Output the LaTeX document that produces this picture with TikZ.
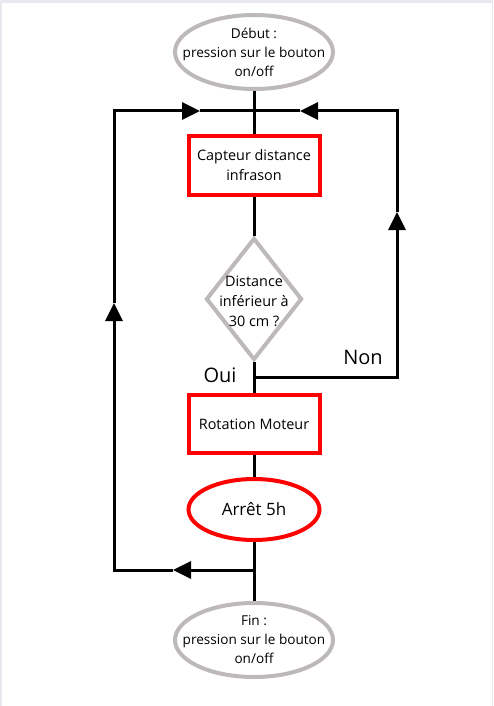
\documentclass[tikz,border=0pt]{standalone}
\usepackage{fontspec}
\setmainfont{Open Sans}
\usetikzlibrary{shapes.geometric,arrows.meta}

\definecolor{edgegray}{RGB}{190,185,185}
\definecolor{framegray}{RGB}{232,232,238}
\definecolor{boxred}{RGB}{255,0,0}

\begin{document}
\begin{tikzpicture}
[x=1pt,y=-1pt,
  enddecorate/.style={shape=ellipse,draw=edgegray,line width=4pt,inner sep=0pt,
    minimum width=158pt,minimum height=74pt},%
  boxdecorate/.style={shape=rectangle,draw=boxred,line width=4pt,inner sep=0pt,
    minimum width=131pt,minimum height=59pt,align=center,
    font=\fontsize{14.4}{20}\selectfont},%
  testdecorate/.style={shape=diamond,draw=edgegray,line width=4pt,inner sep=0pt,
    minimum width=96pt,minimum height=122pt},%
  textdecorate/.style={align=center,inner sep=0pt,font=\fontsize{14.4}{20}\selectfont},%
  labeldecorate/.style={inner sep=0pt,font=\fontsize{20}{22}\selectfont},%
  linedecorate/.style={-,line width=3pt,line join=miter},%
  arrowdecorate/.style={-{Triangle[length=18pt,width=17pt]},line width=3pt,line join=miter}]
%% frame
\fill[framegray] (0,0) rectangle (493,706);
\fill[white] (1.5,3) rectangle (491.5,706);
\useasboundingbox (0,0) rectangle (493,706);
%% nodes
\node (debut) at (254,52) [enddecorate] {};
\node (debuttext) at (debut.center) [textdecorate,font=\fontsize{13.6}{19}\selectfont]
  {Début :\\pression sur le bouton\\on/off};
\node (capteur) at (254,165.5) [boxdecorate] {Capteur distance\\infrason};
\node (test) at (254,299) [testdecorate] {};
\node (testtext) at (254,301) [textdecorate] {Distance\\inférieur à\\30 cm ?};
\node (moteur) at (254,424) [boxdecorate,minimum height=58pt] {Rotation Moteur};
\node (arret) at (254,509.5) [boxdecorate,shape=ellipse,minimum height=61pt,
  font=\fontsize{17}{20}\selectfont] {Arrêt 5h};
\node (fin) at (254,640) [enddecorate] {};
\node (fintext) at (fin.center) [textdecorate,font=\fontsize{13.6}{19}\selectfont]
  {Fin :\\pression sur le bouton\\on/off};
\node (oui) at (220,375) [labeldecorate] {Oui};
\node (non) at (363,357) [labeldecorate] {Non};
%% corners and arrow points
\foreach \cname/\x/\y in {top/254/111, oj/254/377, nonc/397/377, nona/397/212,
  trc/397/111, tra/300/111, fj/254/570, bla/173/570, blc/114/570,
  la/114/303, tlc/114/111, tla/200/111}
{
  \coordinate (\cname) at (\x,\y);
}
%% lines
\path
\foreach \startnode/\endnode in {debut/capteur, capteur/test, test/moteur,
  moteur/arret, arret/fin}
{
  (\startnode) edge[linedecorate] (\endnode)
};
\draw[arrowdecorate] (oj) -- (nonc) -- (nona);
\draw[arrowdecorate] (nona) -- (trc) -- (tra);
\draw[linedecorate] (tra) -- (top);
\draw[arrowdecorate] (fj) -- (bla);
\draw[arrowdecorate] (bla) -- (blc) -- (la);
\draw[arrowdecorate] (la) -- (tlc) -- (tla);
\draw[linedecorate] (tla) -- (top);
\end{tikzpicture}
\end{document}
